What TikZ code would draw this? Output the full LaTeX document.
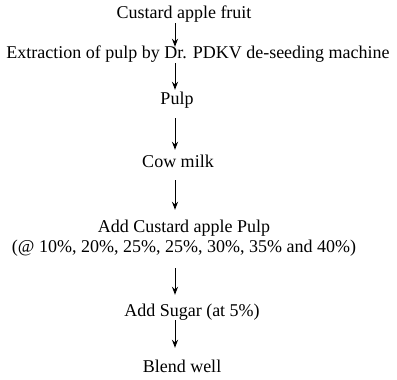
\documentclass[tikz,border=0pt]{standalone}
\usepackage{fontspec}
\setmainfont{Liberation Serif}
\usepackage{tikz}
\usetikzlibrary{arrows.meta, calc}

\tikzset{
  stage/.style={inner sep=0pt, text height=12pt, text depth=4pt, font=\fontsize{18}{20}\selectfont},
  flow/.style={-{Stealth[length=8pt,width=6pt]}, line width=1pt}
}

\begin{document}
\begin{tikzpicture}[x=1pt, y=1pt]
                \useasboundingbox (0,0) rectangle (397,-380);
                \coordinate (col) at (175,0);

                \node[stage] (fruit)   at (184,-14)  {Custard apple fruit};
                \node[stage] (extract) at (198,-55)  {Extraction of pulp by Dr. PDKV de-seeding machine};
                \node[stage] (pulp)    at (177,-100) {Pulp};
                \node[stage] (milk)    at (178,-163) {Cow milk};
                \node[stage, align=center] (addpulp) at (184,-248) {Add Custard apple Pulp\\(@ 10\%, 20\%, 25\%, 25\%, 30\%, 35\% and 40\%)};
                \node[stage] (sugar)   at (192,-312) {Add Sugar (at 5\%)};
                \node[stage] (blend)   at (182,-368) {Blend well};

                % arrows all on one vertical line
                \draw[flow, shorten <=1pt]              (fruit.south -| col)   -- (extract.north -| col);
                \draw[flow, shorten >=2pt]              (extract.south -| col) -- (pulp.north -| col);
                \draw[flow, shorten <=10pt, shorten >=5pt]  (pulp.south -| col)    -- (milk.north -| col);
                \draw[flow, shorten <=9pt, shorten >=30pt]  (milk.south -| col)    -- (addpulp.north -| col);
                \draw[flow, shorten <=12pt, shorten >=9pt]  (addpulp.south -| col) -- (sugar.north -| col);
                \draw[flow, shorten >=12pt]             (sugar.south -| col)   -- (blend.north -| col);
\end{tikzpicture}
\end{document}
